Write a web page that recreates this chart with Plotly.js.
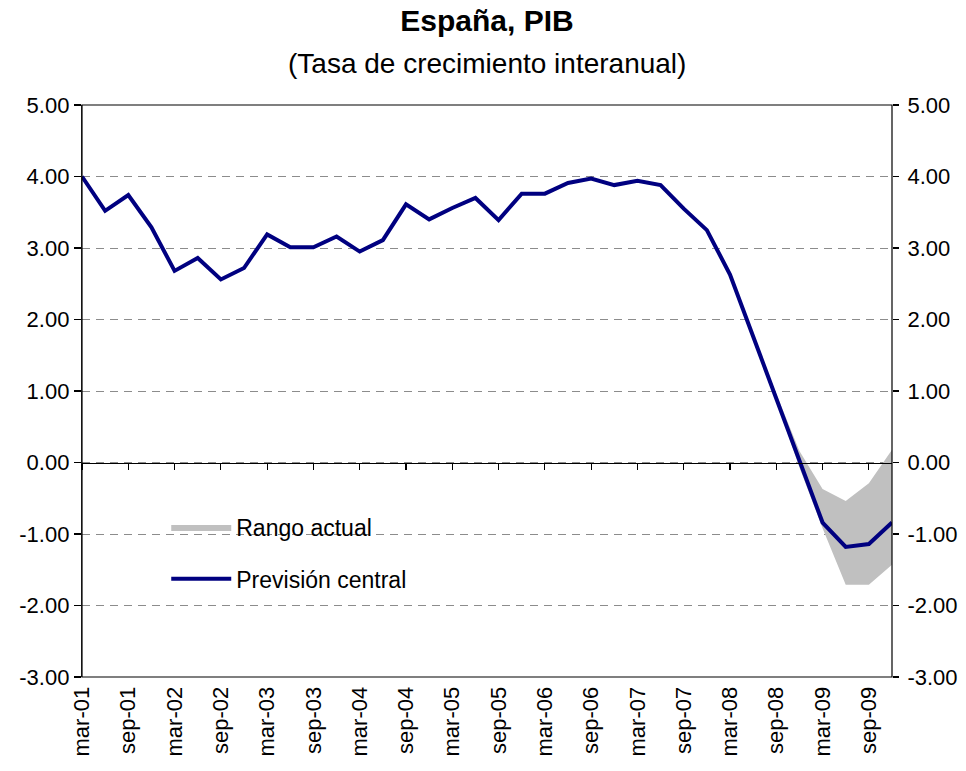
<!DOCTYPE html>
<html>
<head>
<meta charset="utf-8">
<script src="https://cdn.plot.ly/plotly-3.0.1.min.js"></script>
<style>html,body{margin:0;padding:0;background:#fff;}#chart{width:966px;height:771px;}</style>
</head>
<body>
<div id="chart"></div>
<script>
// Quarterly categories
const quarters = [
  'mar-01','jun-01','sep-01','dec-01','mar-02','jun-02','sep-02','dec-02',
  'mar-03','jun-03','sep-03','dec-03','mar-04','jun-04','sep-04','dec-04',
  'mar-05','jun-05','sep-05','dec-05','mar-06','jun-06','sep-06','dec-06',
  'mar-07','jun-07','sep-07','dec-07','mar-08','jun-08','sep-08','dec-08',
  'mar-09','jun-09','sep-09','dec-09'
];
// Previsión central (year-on-year growth, %)
const central = [
  4.00, 3.52, 3.74, 3.29, 2.68, 2.86, 2.56, 2.72,
  3.19, 3.01, 3.01, 3.16, 2.95, 3.11, 3.61, 3.40,
  3.56, 3.70, 3.39, 3.76, 3.76, 3.91, 3.97, 3.88,
  3.94, 3.88, 3.55, 3.25, 2.63, 1.76, 0.90, 0.02,
  -0.84, -1.18, -1.14, -0.84
];
// Rango actual (forecast band)
const bandQuarters = ['jun-08','sep-08','dec-08','mar-09','jun-09','sep-09','dec-09'];
const bandUpper = [1.76, 0.96, 0.16, -0.37, -0.54, -0.29, 0.18];
const bandLower = [1.76, 0.87, -0.07, -0.92, -1.71, -1.71, -1.43];
// Tick labels on the category axis
const tickLabels = ['mar-01','sep-01','mar-02','sep-02','mar-03','sep-03','mar-04','sep-04',
  'mar-05','sep-05','mar-06','sep-06','mar-07','sep-07','mar-08','sep-08','mar-09','sep-09'];
const yTicks = [-3, -2, -1, 0, 1, 2, 3, 4, 5];

const FONT = 'Liberation Sans, Arial, sans-serif';
const xRange = [0, quarters.length - 1];
const yRange = [yTicks[0], yTicks[yTicks.length - 1]];
const yText = yTicks.map(v => v.toFixed(2));
const zeroPos = (0 - yRange[0]) / (yRange[1] - yRange[0]);

const traces = [
  { x: bandQuarters, y: bandLower, type: 'scatter', mode: 'lines',
    line: { width: 0, color: '#c0c0c0' }, showlegend: false, hoverinfo: 'skip',
    legendgroup: 'a' },
  { x: bandQuarters, y: bandUpper, type: 'scatter', mode: 'lines',
    name: 'Rango actual',
    fill: 'tonexty', fillcolor: '#c0c0c0', line: { width: 0, color: '#c0c0c0' },
    legendgroup: 'a' },
  { x: quarters, y: central, type: 'scatter', mode: 'lines',
    name: 'Previsión central',
    line: { color: '#000080', width: 4 }, legendgroup: 'b' },
  // invisible helper so the right-hand value axis is drawn
  { x: quarters, y: central, yaxis: 'y2', type: 'scatter', mode: 'lines',
    line: { width: 0 }, opacity: 0, showlegend: false, hoverinfo: 'skip' }
];

const layout = {
  width: 966, height: 771,
  margin: { l: 82, r: 74, t: 105, b: 94 },
  paper_bgcolor: '#ffffff', plot_bgcolor: '#ffffff',
  font: { family: FONT, color: '#000000', size: 22 },
  title: {
    text: '<b>España, PIB</b>',
    font: { family: FONT, size: 30, color: '#000' },
    x: 0.5, xanchor: 'center', xref: 'paper',
    y: 0.973, yanchor: 'middle', yref: 'container'
  },
  annotations: [{
    text: '(Tasa de crecimiento interanual)', showarrow: false,
    xref: 'paper', yref: 'paper', x: 0.5, xanchor: 'center',
    y: (677 - 63) / 572, yanchor: 'middle',
    font: { family: FONT, size: 28, color: '#000' }
  }],
  shapes: [{
    type: 'rect', xref: 'paper', yref: 'paper', x0: 0, x1: 1, y0: 0, y1: 1,
    line: { color: '#000', width: 1.2 }, fillcolor: 'rgba(0,0,0,0)', layer: 'above'
  }],
  showlegend: true,
  legend: {
    x: 0.104, y: 0.2998, xanchor: 'left', yanchor: 'top',
    bgcolor: 'rgba(0,0,0,0)', font: { family: FONT, size: 23 },
    itemwidth: 60, tracegroupgap: 19, traceorder: 'grouped'
  },
  xaxis: {
    type: 'category', categoryorder: 'array', categoryarray: quarters,
    anchor: 'free', position: zeroPos,
    range: xRange, tickmode: 'array', tickvals: tickLabels, ticktext: tickLabels,
    tickangle: -90, ticks: 'outside', ticklen: 6, tickcolor: '#000', tickwidth: 1.2,
    ticklabelstandoff: 208,
    showgrid: false, zeroline: false,
    showline: true, linecolor: '#000', linewidth: 1.5,
    tickfont: { family: FONT, size: 22 }
  },
  yaxis: {
    range: yRange, tickmode: 'array', tickvals: yTicks, ticktext: yText,
    ticks: 'outside', ticklen: 7, tickcolor: '#000', tickwidth: 1.2,
    showline: true, linecolor: '#333', linewidth: 1.2,
    showgrid: true, gridcolor: '#8c8c8c', griddash: '8px,6px', gridwidth: 1,
    zeroline: false, tickfont: { family: FONT, size: 22 }
  },
  yaxis2: {
    overlaying: 'y', side: 'right', anchor: 'x', range: yRange,
    tickmode: 'array', tickvals: yTicks, ticktext: yText,
    ticks: 'outside', ticklen: 6, tickcolor: '#000', tickwidth: 1.2,
    ticklabelstandoff: 4,
    showline: false, showgrid: false, zeroline: false,
    tickfont: { family: FONT, size: 22 }
  }
};

Plotly.newPlot('chart', traces, layout, { displayModeBar: false, staticPlot: true });
</script>
</body>
</html>
